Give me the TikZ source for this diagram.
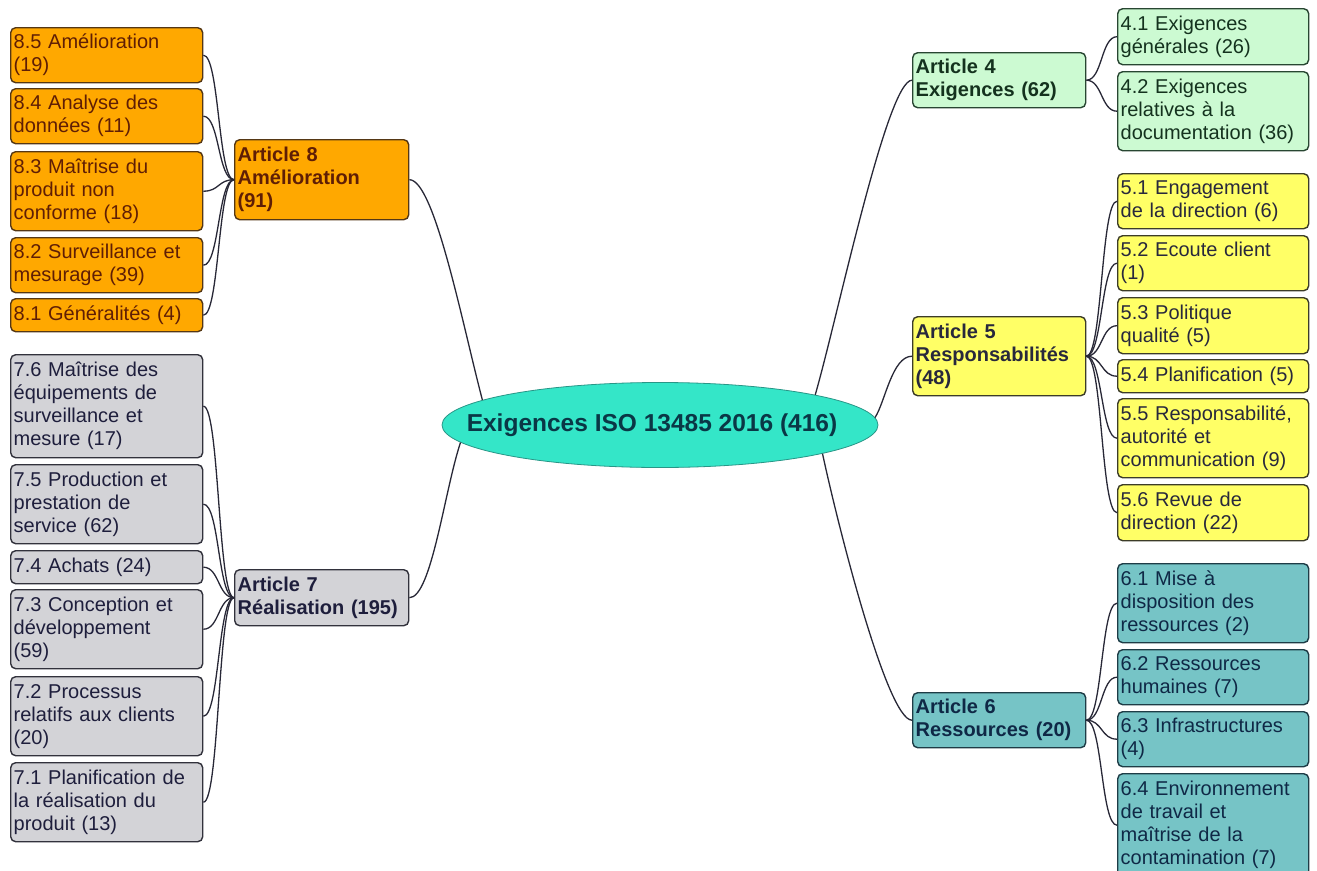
\documentclass[tikz,border=0pt]{standalone}
\usepackage{fontspec}
\setmainfont{Liberation Sans}
\usetikzlibrary{shapes.geometric}
\definecolor{fO}{RGB}{255,168,0}
\definecolor{bO}{RGB}{85,55,20}
\definecolor{tO}{RGB}{95,30,5}
\definecolor{fG}{RGB}{211,211,215}
\definecolor{bG}{RGB}{50,50,60}
\definecolor{tG}{RGB}{30,30,60}
\definecolor{fV}{RGB}{204,250,210}
\definecolor{bV}{RGB}{40,70,50}
\definecolor{tV}{RGB}{20,50,30}
\definecolor{fY}{RGB}{255,255,102}
\definecolor{bY}{RGB}{60,60,40}
\definecolor{tY}{RGB}{40,40,60}
\definecolor{fT}{RGB}{118,196,198}
\definecolor{bT}{RGB}{30,60,70}
\definecolor{tT}{RGB}{15,40,70}
\definecolor{fC}{RGB}{52,230,200}
\definecolor{bC}{RGB}{40,150,135}
\definecolor{tC}{RGB}{10,55,70}
\definecolor{cL}{RGB}{40,40,55}
\begin{document}
\begin{tikzpicture}[x=1pt,y=-1pt,
  box/.style={draw, rounded corners=5pt, line width=1.4pt, anchor=north west, align=left,
    inner xsep=3pt, inner ysep=0pt, font=\fontsize{20}{23}\selectfont},
  subL/.style={box, text width=186pt},
  subR/.style={box, text width=185pt},
  art/.style={box, text width=168pt, font=\fontsize{20}{23}\selectfont\bfseries},
  orng/.style={fill=fO, draw=bO, text=tO},
  gry/.style={fill=fG, draw=bG, text=tG},
  grn/.style={fill=fV, draw=bV, text=tV},
  yel/.style={fill=fY, draw=bY, text=tY},
  tea/.style={fill=fT, draw=bT, text=tT},
  link/.style={line width=1.3pt, draw=cL},
  rootnode/.style={ellipse, draw=bC, line width=0.8pt, fill=fC, text=tC, minimum width=436pt,
    minimum height=85pt, inner sep=0pt, font=\fontsize{24.5}{28}\selectfont\bfseries}
]
\useasboundingbox (0,0) rectangle (1317,870);
\clip (0,0) rectangle (1317,870);
\fill[white] (0,0) rectangle (1317,870);

% root
\node[rootnode] (root) at (660,425) {\makebox[0pt]{Exigences ISO 13485 2016 (416)\hspace{16pt}}};

% Article 8
\node[subL,orng,minimum height=55] (s85) at (10,27) {8.5 Amélioration\\(19)};
\node[subL,orng,minimum height=55] (s84) at (10,88) {8.4 Analyse des\\données (11)};
\node[subL,orng,minimum height=79] (s83) at (10,151) {8.3 Maîtrise du\\produit non\\conforme (18)};
\node[subL,orng,minimum height=55] (s82) at (10,237) {8.2 Surveillance et\\mesurage (39)};
\node[subL,orng,minimum height=33] (s81) at (10,298) {8.1 Généralités (4)};
\node[art,orng,minimum height=80] (a8) at (234,139) {Article 8\\Amélioration\\(91)};

% Article 7
\node[subL,gry,minimum height=103] (s76) at (10,354) {7.6 Maîtrise des\\équipements de\\surveillance et\\mesure (17)};
\node[subL,gry,minimum height=79] (s75) at (10,464) {7.5 Production et\\prestation de\\service (62)};
\node[subL,gry,minimum height=33] (s74) at (10,550) {7.4 Achats (24)};
\node[subL,gry,minimum height=79] (s73) at (10,589) {7.3 Conception et\\développement\\(59)};
\node[subL,gry,minimum height=79] (s72) at (10,676) {7.2 Processus\\relatifs aux clients\\(20)};
\node[subL,gry,minimum height=79] (s71) at (10,762) {7.1 Planification de\\la réalisation du\\produit (13)};
\node[art,gry,minimum height=56] (a7) at (234,569) {Article 7\\Réalisation (195)};

% Article 4
\node[art,grn,minimum height=55,text width=167pt] (a4) at (912,52) {Article 4\\Exigences (62)};
\node[subR,grn,minimum height=56] (s41) at (1117,8) {4.1 Exigences\\générales (26)};
\node[subR,grn,minimum height=79] (s42) at (1117,71) {4.2 Exigences\\relatives à la\\documentation (36)};

% Article 5
\node[art,yel,minimum height=79,text width=167pt] (a5) at (912,316) {Article 5\\Responsabilités\\(48)};
\node[subR,yel,minimum height=55] (s51) at (1117,173) {5.1 Engagement\\de la direction (6)};
\node[subR,yel,minimum height=55] (s52) at (1117,235) {5.2 Ecoute client\\(1)};
\node[subR,yel,minimum height=56] (s53) at (1117,297) {5.3 Politique\\qualité (5)};
\node[subR,yel,minimum height=33] (s54) at (1117,359) {5.4 Planification (5)};
\node[subR,yel,minimum height=79] (s55) at (1117,398) {5.5 Responsabilité,\\autorité et\\communication (9)};
\node[subR,yel,minimum height=56] (s56) at (1117,484) {5.6 Revue de\\direction (22)};

% Article 6
\node[art,tea,minimum height=55,text width=167pt] (a6) at (912,692) {Article 6\\Ressources (20)};
\node[subR,tea,minimum height=79] (s61) at (1117,563) {6.1 Mise à\\disposition des\\ressources (2)};
\node[subR,tea,minimum height=55] (s62) at (1117,649) {6.2 Ressources\\humaines (7)};
\node[subR,tea,minimum height=55] (s63) at (1117,711) {6.3 Infrastructures\\(4)};
\node[subR,tea,minimum height=103] (s64) at (1117,773) {6.4 Environnement\\de travail et\\maîtrise de la\\contamination (7)};

% root connectors
\draw[link] (a8.east) .. controls +(25,0) and +(-20,-76) .. (root.172);
\draw[link] (a7.east) .. controls +(22,0) and +(-16,48) .. (root.185);
\draw[link] (root.11) .. controls +(22,-76) and +(-25,0) .. (a4.west);
\draw[link] (root.2) .. controls +(10,-15) and +(-20,0) .. (a5.west);
\draw[link] (root.350) .. controls +(15,70) and +(-25,0) .. (a6.west);

% left children
\foreach \c in {s85,s84,s83,s82,s81}
  \draw[link] (a8.west) .. controls +(-16,0) and +(16,0) .. (\c.east);
\foreach \c in {s76,s75,s74,s73,s72,s71}
  \draw[link] (a7.west) .. controls +(-16,0) and +(16,0) .. (\c.east);
% right children
\foreach \c in {s41,s42}
  \draw[link] (a4.east) .. controls +(16,0) and +(-16,0) .. (\c.west);
\foreach \c in {s51,s52,s53,s54,s55,s56}
  \draw[link] (a5.east) .. controls +(16,0) and +(-16,0) .. (\c.west);
\foreach \c in {s61,s62,s63,s64}
  \draw[link] (a6.east) .. controls +(16,0) and +(-16,0) .. (\c.west);
\end{tikzpicture}
\end{document}
